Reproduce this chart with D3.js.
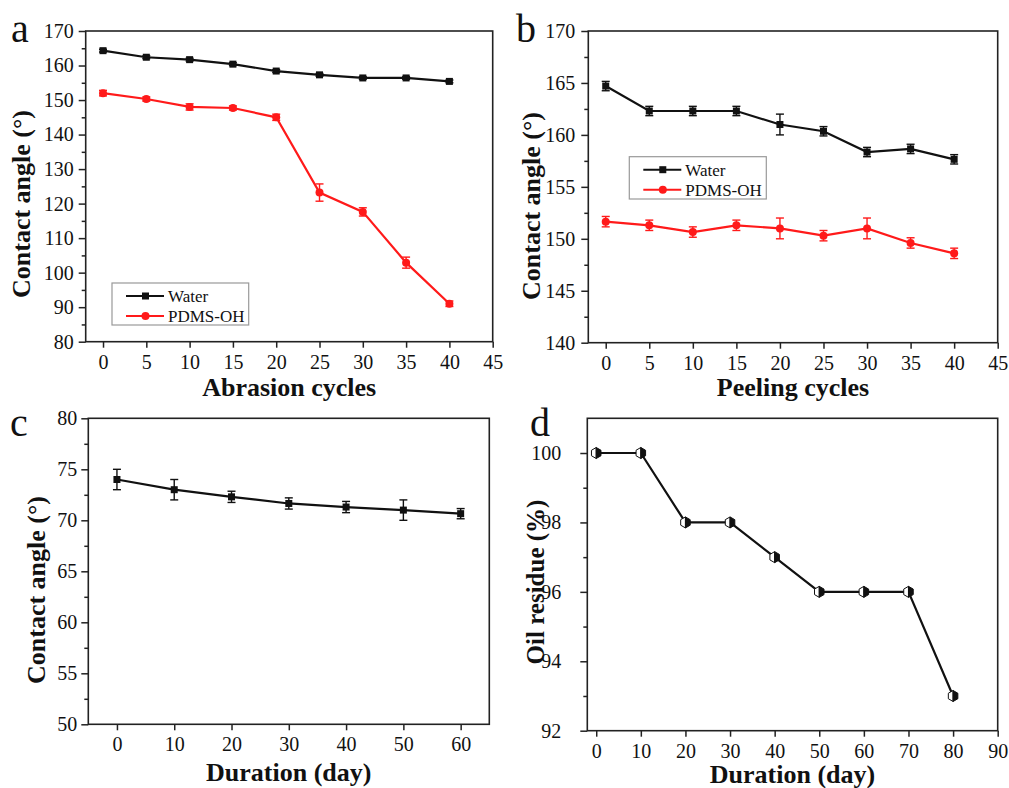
<!DOCTYPE html>
<html>
<head>
<meta charset="utf-8">
<script src="https://cdn.jsdelivr.net/npm/d3@7"></script>
<style>
  body { margin: 0; background: #fff; }
  text { font-family: "Liberation Serif", "Times New Roman", serif; }
</style>
</head>
<body>
<script>
// ---- data ----
const cycles = [0, 5, 10, 15, 20, 25, 30, 35, 40];

const abrasionWater    = [164.3, 162.4, 161.7, 160.4, 158.4, 157.3, 156.4, 156.4, 155.4];
const abrasionWaterErr = [0.4, 0.4, 0.4, 0.4, 0.4, 0.4, 0.4, 0.4, 0.4];
const abrasionPdms     = [152.0, 150.3, 148.0, 147.7, 145.0, 123.2, 117.6, 102.9, 91.0];
const abrasionPdmsErr  = [0.8, 0.6, 0.9, 0.6, 0.9, 2.5, 1.2, 1.6, 0.8];

const peelWater    = [164.7, 162.3, 162.3, 162.3, 161.0, 160.35, 158.35, 158.65, 157.65];
const peelWaterErr = [0.45, 0.45, 0.45, 0.45, 1.0, 0.45, 0.45, 0.45, 0.45];
const peelPdms     = [151.65, 151.3, 150.65, 151.3, 151.0, 150.3, 151.0, 149.6, 148.6];
const peelPdmsErr  = [0.5, 0.5, 0.5, 0.5, 1.0, 0.5, 1.0, 0.5, 0.5];

const daysC      = [0, 10, 20, 30, 40, 50, 60];
const contactC    = [74.0, 73.0, 72.3, 71.65, 71.3, 71.0, 70.65];
const contactCErr = [1.0, 1.0, 0.55, 0.55, 0.55, 1.0, 0.5];

const daysD      = [0, 10, 20, 30, 40, 50, 60, 70, 80];
const oilResidue = [100, 100, 98, 98, 97, 96, 96, 96, 93];

// tick values
const ticksCycles = d3.range(0, 46, 5);
const ticksA      = d3.range(80, 171, 10);
const ticksB      = d3.range(140, 171, 5);
const ticksC      = d3.range(50, 81, 5);
const ticksCx     = d3.range(0, 61, 10);
const ticksD      = d3.range(92, 101, 2);
const ticksDx     = d3.range(0, 91, 10);

const seriesNames = ["Water", "PDMS-OH"];

// ---- drawing ----
const width = 1009, height = 788;
const svg = d3.select("body").append("svg")
    .attr("width", width)
    .attr("height", height);

function hexHalf(side, r) {
  // half of a pointy-top hexagon, side = -1 left, +1 right
  const h = r * Math.sqrt(3) / 2;
  return `M0,${-r}L${side * h},${-r / 2}L${side * h},${r / 2}L0,${r}Z`;
}

function panel(o) {
  const g = svg.append("g");
  const x = d3.scaleLinear().domain(o.xDomain).range([o.left, o.right]);
  const y = d3.scaleLinear().domain(o.yDomain).range([o.bottom, o.top]);

  // frame
  g.append("rect")
      .attr("x", o.left).attr("y", o.top)
      .attr("width", o.right - o.left).attr("height", o.bottom - o.top)
      .attr("fill", "none").attr("stroke", "#222").attr("stroke-width", 1.6);

  // bottom axis
  g.append("g")
      .attr("transform", `translate(0,${o.bottom})`)
      .call(d3.axisBottom(x).tickValues(o.xTicks).tickSize(6).tickSizeOuter(0).tickPadding(7))
      .call(a => a.select(".domain").remove())
      .call(a => a.selectAll(".tick line").attr("stroke", "#222").attr("stroke-width", 1.5))
      .call(a => a.selectAll("text").attr("font-size", 20).attr("fill", "#111")
          .style("font-family", "Liberation Serif"));

  // left axis: minor then major ticks
  g.append("g")
      .attr("transform", `translate(${o.left},0)`)
      .call(d3.axisLeft(y).tickValues(o.yMinor).tickSize(4).tickFormat(""))
      .call(a => a.select(".domain").remove())
      .call(a => a.selectAll(".tick line").attr("stroke", "#222").attr("stroke-width", 1.5));

  g.append("g")
      .attr("transform", `translate(${o.left},0)`)
      .call(d3.axisLeft(y).tickValues(o.yTicks).tickSize(7).tickSizeOuter(0).tickPadding(o.yPad))
      .call(a => a.select(".domain").remove())
      .call(a => a.selectAll(".tick line").attr("stroke", "#222").attr("stroke-width", 1.5))
      .call(a => a.selectAll("text").attr("font-size", 20).attr("fill", "#111")
          .style("font-family", "Liberation Serif"));

  // series
  o.series.forEach(s => {
    const pts = s.x.map((v, i) => ({x: v, y: s.y[i], e: s.err ? s.err[i] : 0}));
    g.append("path")
        .datum(pts)
        .attr("fill", "none")
        .attr("stroke", s.color)
        .attr("stroke-width", 2.2)
        .attr("d", d3.line().x(d => x(d.x)).y(d => y(d.y)));

    if (s.err) {
      const eb = g.append("g").attr("stroke", s.color).attr("stroke-width", 1.4)
        .selectAll("g").data(pts).join("g");
      eb.append("line")
          .attr("x1", d => x(d.x)).attr("x2", d => x(d.x))
          .attr("y1", d => y(d.y - d.e)).attr("y2", d => y(d.y + d.e));
      eb.append("line")
          .attr("x1", d => x(d.x) - 4).attr("x2", d => x(d.x) + 4)
          .attr("y1", d => y(d.y + d.e)).attr("y2", d => y(d.y + d.e));
      eb.append("line")
          .attr("x1", d => x(d.x) - 4).attr("x2", d => x(d.x) + 4)
          .attr("y1", d => y(d.y - d.e)).attr("y2", d => y(d.y - d.e));
    }

    if (s.marker === "square") {
      g.append("g").selectAll("rect").data(pts).join("rect")
          .attr("x", d => x(d.x) - 3.5).attr("y", d => y(d.y) - 3.5)
          .attr("width", 7).attr("height", 7)
          .attr("fill", s.color);
    } else if (s.marker === "circle") {
      g.append("g").selectAll("circle").data(pts).join("circle")
          .attr("cx", d => x(d.x)).attr("cy", d => y(d.y)).attr("r", 4)
          .attr("fill", s.color);
    } else if (s.marker === "hex") {
      const m = g.append("g").selectAll("g").data(pts).join("g")
          .attr("transform", d => `translate(${x(d.x)},${y(d.y)})`);
      m.append("path").attr("d", hexHalf(-1, 5.5))
          .attr("fill", "#fff").attr("stroke", "#111").attr("stroke-width", 1);
      m.append("path").attr("d", hexHalf(1, 5.5))
          .attr("fill", "#111").attr("stroke", "#111").attr("stroke-width", 1);
    }
  });

  // legend
  if (o.legend) {
    const L = o.legend;
    g.append("rect")
        .attr("x", L.x).attr("y", L.y).attr("width", L.w).attr("height", L.h)
        .attr("fill", "#fff").attr("stroke", "#999").attr("stroke-width", 1.2);
    o.series.forEach((s, i) => {
      const cy = L.y + 13 + i * 20;
      g.append("line")
          .attr("x1", L.x + 14).attr("x2", L.x + 52)
          .attr("y1", cy).attr("y2", cy)
          .attr("stroke", s.color).attr("stroke-width", 2);
      if (s.marker === "square") {
        g.append("rect").attr("x", L.x + 30).attr("y", cy - 3.5)
            .attr("width", 7).attr("height", 7).attr("fill", s.color);
      } else {
        g.append("circle").attr("cx", L.x + 33.5).attr("cy", cy).attr("r", 4)
            .attr("fill", s.color);
      }
      g.append("text")
          .attr("x", L.x + 56).attr("y", cy + 6)
          .attr("font-size", 17).attr("fill", "#111")
          .text(seriesNames[i]);
    });
  }

  // titles and panel letter
  g.append("text")
      .attr("x", (o.left + o.right) / 2 + o.xTitleDx).attr("y", o.xTitleY)
      .attr("text-anchor", "middle")
      .attr("font-size", 26).attr("font-weight", "bold").attr("fill", "#111")
      .text(o.xTitle);

  g.append("text")
      .attr("transform", `translate(${o.yTitleX},${o.yTitleY}) rotate(-90)`)
      .attr("text-anchor", "middle")
      .attr("font-size", o.yTitleSize || 26).attr("font-weight", "bold").attr("fill", "#111")
      .text(o.yTitle);

  g.append("text")
      .attr("x", o.letterX).attr("y", o.letterY)
      .attr("font-size", 40).attr("fill", "#111")
      .text(o.letter);
}

panel({
  left: 85.7, right: 492.7, top: 31, bottom: 341.7,
  xDomain: [-2, 45], yDomain: [80, 170],
  xTicks: ticksCycles, yTicks: ticksA, yMinor: d3.range(85, 170, 10), yPad: 5,
  series: [
    {x: cycles, y: abrasionWater, err: abrasionWaterErr, color: "#111", marker: "square"},
    {x: cycles, y: abrasionPdms, err: abrasionPdmsErr, color: "#ff1a1a", marker: "circle"}
  ],
  legend: {x: 112, y: 283, w: 136.7, h: 42},
  xTitle: "Abrasion cycles", xTitleDx: 0, xTitleY: 396,
  yTitle: "Contact angle (°)", yTitleX: 30, yTitleY: 204,
  letter: "a", letterX: 11, letterY: 42
});

panel({
  left: 588.3, right: 997.7, top: 31, bottom: 342.7,
  xDomain: [-2, 45], yDomain: [140, 170],
  xTicks: ticksCycles, yTicks: ticksB, yMinor: d3.range(142.5, 170, 5), yPad: 6,
  series: [
    {x: cycles, y: peelWater, err: peelWaterErr, color: "#111", marker: "square"},
    {x: cycles, y: peelPdms, err: peelPdmsErr, color: "#ff1a1a", marker: "circle"}
  ],
  legend: {x: 629.3, y: 156.7, w: 137, h: 42.3},
  xTitle: "Peeling cycles", xTitleDx: 0, xTitleY: 396,
  yTitle: "Contact angle (°)", yTitleX: 540, yTitleY: 206,
  letter: "b", letterX: 516, letterY: 42
});

panel({
  left: 88.3, right: 489.3, top: 418.3, bottom: 724.3,
  xDomain: [-5, 65], yDomain: [50, 80],
  xTicks: ticksCx, yTicks: ticksC, yMinor: d3.range(52.5, 80, 5), yPad: 4,
  series: [
    {x: daysC, y: contactC, err: contactCErr, color: "#111", marker: "square"}
  ],
  xTitle: "Duration (day)", xTitleDx: 0, xTitleY: 781,
  yTitle: "Contact angle (°)", yTitleX: 45, yTitleY: 590,
  letter: "c", letterX: 10, letterY: 436
});

panel({
  left: 587.3, right: 997.7, top: 418.3, bottom: 730.7,
  xDomain: [-2, 90], yDomain: [92, 101],
  xTicks: ticksDx, yTicks: ticksD, yMinor: d3.range(93, 101, 2), yPad: 19,
  series: [
    {x: daysD, y: oilResidue, color: "#111", marker: "hex"}
  ],
  xTitle: "Duration (day)", xTitleDx: 0, xTitleY: 783,
  yTitle: "Oil residue (%)", yTitleX: 544, yTitleY: 582, yTitleSize: 25,
  letter: "d", letterX: 530, letterY: 436
});
</script>
</body>
</html>
